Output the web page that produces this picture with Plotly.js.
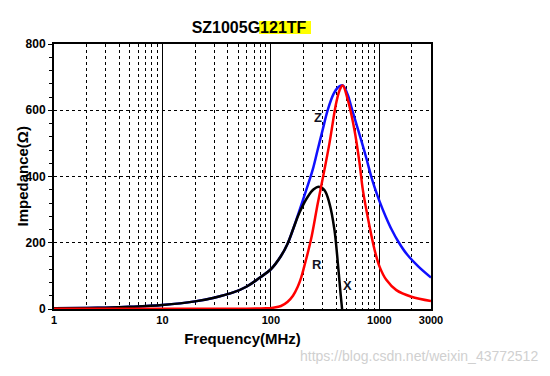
<!DOCTYPE html>
<html>
<head>
<meta charset="utf-8">
<script src="https://cdn.plot.ly/plotly-3.0.1.min.js"></script>
<style>html,body{margin:0;padding:0;background:#fff;}#chart{width:550px;height:376px;}</style>
</head>
<body>
<div id="chart"></div>
<script>
// Frequency (MHz) and impedance (Ohm)
const zFreq = [1,2,3,5,10,20,30,45,60,80,100,124,143,160,177,210,243,270,300,335,380,420,460,510,551,600,681,760,843,906,1006,1150,1300,1500,1800,2300,3000];
const zVals = [2,3,4,6.5,12,23,34,50,68,96,120,160,198,240,282,355,420,480,540,601,650,670,675,648,611,570,510,455,400,367,325,278,240,203,165,128,95];

const xFreq = [1,2,3,5,10,20,30,45,60,80,100,124,143,160,183,219,250,274,312,347,386,415,440,454];
const xVals = [2,3,4,6.5,12,23,34,50,68,96,120,160,198,240,290,339,362,369,359,319,239,138,45,0];

const rFreq = [1,10,50,90,105,124,143,160,177,190,203,234,271,312,347,400,430,460,513,590,658,706,814,906,1006,1161,1437,1977,3000];
const rVals = [1,1,1,2,4,9,22,40,67,94,128,208,319,420,500,621,660,675,631,541,440,359,249,178,128,88,57,37,24];

const xTickVals = [1,10,100,1000,3000];
const xTickText = ['1','10','100','1000','3000'];
const xMinorVals = [2,3,4,5,6,7,8,9,20,30,40,50,60,70,80,90,200,300,400,500,600,700,800,900,2000];
const yTickVals = [0,200,400,600,800];

const titleMain = 'SZ1005G121TF';
const xTitle = 'Frequency(MHz)';
const yTitle = 'Impedance(Ω)';
const curveLabels = ['Z','R','X'];
const watermark = 'https://blog.csdn.net/weixin_43772512';

const FONT = 'Arial, "Liberation Sans", sans-serif';

const traces = [
  {x: zFreq, y: zVals, type: 'scatter', mode: 'lines', line: {color: '#1010ff', width: 2.5, shape: 'spline', smoothing: 1}, hoverinfo: 'skip'},
  {x: xFreq, y: xVals, type: 'scatter', mode: 'lines', line: {color: '#000000', width: 2.5, shape: 'spline', smoothing: 1}, hoverinfo: 'skip'},
  {x: rFreq, y: rVals, type: 'scatter', mode: 'lines', line: {color: '#ff0000', width: 2.5, shape: 'spline', smoothing: 1}, hoverinfo: 'skip'}
];

// helpers converting page pixels to paper coords (plot area: x 54..431, y 44..309)
const px = v => (v - 54) / 377;
const py = v => (309 - v) / 265;

const layout = {
  width: 550, height: 376,
  margin: {l: 54, r: 119, t: 44, b: 67},
  paper_bgcolor: '#ffffff', plot_bgcolor: '#ffffff',
  showlegend: false,
  font: {family: FONT, color: '#000', size: 11},
  title: {text: titleMain, x: 249/550, xanchor: 'center', y: 1 - 27.5/376, yanchor: 'middle',
          font: {family: FONT, size: 16, weight: 'bold', color: '#000'}},
  xaxis: {
    type: 'log', range: [0, Math.log10(3000)],
    tickmode: 'array', tickvals: xTickVals, ticktext: xTickText,
    ticks: '', showgrid: true, gridcolor: '#000', gridwidth: 1,
    minor: {tickmode: 'array', tickvals: xMinorVals, showgrid: true, gridcolor: '#000', gridwidth: 1, griddash: '3px,3px', ticks: ''},
    showline: true, linecolor: '#000', linewidth: 2, mirror: true,
    zeroline: false,
    tickfont: {family: FONT, size: 11, weight: 'bold', color: '#000'},
    title: {text: xTitle, standoff: 8, font: {family: FONT, size: 15, weight: 'bold', color: '#000'}},
    automargin: false
  },
  yaxis: {
    range: [0, 800],
    tickmode: 'array', tickvals: yTickVals,
    ticks: 'outside', ticklen: 4, tickwidth: 1, tickcolor: '#000',
    minor: {dtick: 40, ticks: 'outside', ticklen: 3, tickcolor: '#000', showgrid: false},
    showgrid: true, gridcolor: '#000', gridwidth: 1, griddash: '3px,3px',
    showline: true, linecolor: '#000', linewidth: 2, mirror: true,
    zeroline: false,
    tickfont: {family: FONT, size: 12, weight: 'bold', color: '#000'},
    automargin: false
  },
  shapes: [
    {type: 'rect', xref: 'paper', yref: 'paper', layer: 'below',
     x0: px(259), x1: px(311), y0: py(34), y1: py(21),
     fillcolor: '#ffff00', line: {width: 0}}
  ],
  annotations: [
    {x: Math.log10(272), y: 577, xref: 'x', yref: 'y', text: curveLabels[0], showarrow: false,
     font: {family: FONT, size: 13, weight: 'bold', color: '#111122'}},
    {x: Math.log10(267), y: 133, xref: 'x', yref: 'y', text: curveLabels[1], showarrow: false,
     font: {family: FONT, size: 13, weight: 'bold', color: '#111122'}},
    {x: Math.log10(506), y: 72, xref: 'x', yref: 'y', text: curveLabels[2], showarrow: false,
     font: {family: FONT, size: 13, weight: 'bold', color: '#111122'}},
    {x: px(22), y: py(176.5), xref: 'paper', yref: 'paper', xanchor: 'center', yanchor: 'middle',
     text: yTitle, textangle: -90, showarrow: false,
     font: {family: FONT, size: 15, weight: 'bold', color: '#000'}},
    {x: px(540), y: py(356), xref: 'paper', yref: 'paper', xanchor: 'right', yanchor: 'middle',
     text: watermark, showarrow: false,
     font: {family: FONT, size: 14, color: '#d0d0d0'}}
  ]
};

Plotly.newPlot('chart', traces, layout, {staticPlot: true, displayModeBar: false});
</script>
</body>
</html>
